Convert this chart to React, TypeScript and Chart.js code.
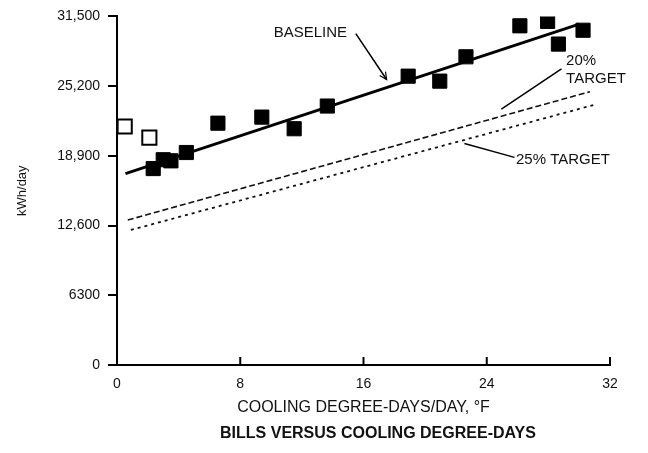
import React, { useEffect, useRef } from 'react';
import { Chart, registerables } from 'chart.js';
Chart.register(...registerables);

// ---- data ----
const openX = [0.5, 2.1];
const openY = [21550, 20550];
const filledX = [2.35, 3.0, 3.5, 4.5, 6.55, 9.4, 11.5, 13.65, 18.9, 20.95, 22.65, 26.15, 27.95, 28.65, 30.25];
const filledY = [17750, 18550, 18450, 19200, 21850, 22400, 21350, 23400, 26100, 25650, 27850, 30650, 31050, 29000, 30250];
const baselineX = [0.55, 30.0];
const baselineY = [17300, 30800];
const target20X = [0.7, 30.7];
const target20Y = [13100, 24700];
const target25X = [0.9, 30.95];
const target25Y = [12200, 23500];
const xTickValues = [0, 8, 16, 24, 32];
const yTickLabels = ['0', '6300', '12,600', '18,900', '25,200', '31,500'];

const chartTitle = 'BILLS VERSUS COOLING DEGREE-DAYS';
const xTitle = 'COOLING DEGREE-DAYS/DAY, \u00B0F';
const yTitle = 'kWh/day';

// annotation texts and their anchor points in data units
const labelTexts = ['BASELINE', '20%', 'TARGET', '25% TARGET'];
const labelX = [12.55, 29.15, 29.15, 25.9];
const labelY = [30000, 27500, 25850, 18500];
const labelAlign = ['center', 'left', 'left', 'left'];
// leader lines [x1, y1, x2, y2]
const leaderBaseline = [15.5, 29950, 17.5, 25800];
const leader20 = [28.85, 26750, 24.95, 23130];
const leader25 = [22.55, 20020, 25.8, 18760];

const FONT = '"Liberation Sans", Arial, Helvetica, sans-serif';

const toPts = (xs: number[], ys: number[]) => xs.map((x, i) => ({ x, y: ys[i] }));

const decorPlugin = {
  id: 'decor',
  afterDraw(chart: any) {
    const { ctx, chartArea } = chart;
    const xs = chart.scales.x;
    const ys = chart.scales.y;
    const px = (v: number) => xs.getPixelForValue(v);
    const py = (v: number) => ys.getPixelForValue(v);
    ctx.save();
    // inward x ticks
    ctx.strokeStyle = '#000';
    ctx.lineWidth = 2;
    xs.ticks.forEach((t: any) => {
      const x = px(t.value);
      ctx.beginPath();
      ctx.moveTo(x, chartArea.bottom);
      ctx.lineTo(x, chartArea.bottom - 8);
      ctx.stroke();
    });
    // leader lines
    ctx.lineWidth = 1.5;
    [leaderBaseline, leader20, leader25].forEach((l) => {
      ctx.beginPath();
      ctx.moveTo(px(l[0]), py(l[1]));
      ctx.lineTo(px(l[2]), py(l[3]));
      ctx.stroke();
    });
    // arrow head on baseline leader
    {
      const x1 = px(leaderBaseline[0]), y1 = py(leaderBaseline[1]);
      const x2 = px(leaderBaseline[2]), y2 = py(leaderBaseline[3]);
      const a = Math.atan2(y2 - y1, x2 - x1);
      const len = 8;
      ctx.lineWidth = 1.2;
      ctx.beginPath();
      ctx.moveTo(x2 - len * Math.cos(a - 0.45), y2 - len * Math.sin(a - 0.45));
      ctx.lineTo(x2, y2);
      ctx.lineTo(x2 - len * Math.cos(a + 0.45), y2 - len * Math.sin(a + 0.45));
      ctx.stroke();
    }
    // labels
    ctx.fillStyle = '#111';
    ctx.font = `15px ${FONT}`;
    ctx.textBaseline = 'middle';
    labelTexts.forEach((t, i) => {
      ctx.textAlign = labelAlign[i] as CanvasTextAlign;
      ctx.fillText(t, px(labelX[i]), py(labelY[i]));
    });
    // chart title
    ctx.font = `bold 16px ${FONT}`;
    ctx.textAlign = 'center';
    ctx.fillText(chartTitle, 378, 434);
    ctx.restore();
  },
};

export default function App() {
  const ref = useRef<HTMLCanvasElement | null>(null);
  useEffect(() => {
    if (!ref.current) return;
    Chart.defaults.font.family = FONT;
    Chart.defaults.color = '#111';
    const chart = new Chart(ref.current, {
      type: 'scatter',
      data: {
        datasets: [
          {
            label: 'Bills',
            data: toPts(filledX, filledY),
            pointStyle: 'rect',
            pointRadius: 10,
            backgroundColor: '#000',
            borderColor: '#000',
            borderWidth: 1,
          },
          {
            label: 'Excluded bills',
            data: toPts(openX, openY),
            pointStyle: 'rect',
            pointRadius: 10,
            backgroundColor: '#fff',
            borderColor: '#000',
            borderWidth: 2,
          },
          {
            label: 'Baseline',
            data: toPts(baselineX, baselineY),
            showLine: true,
            pointRadius: 0,
            borderColor: '#000',
            borderWidth: 2.8,
          },
          {
            label: '20% target',
            data: toPts(target20X, target20Y),
            showLine: true,
            pointRadius: 0,
            borderColor: '#111',
            borderWidth: 1.6,
            borderDash: [6, 3],
          },
          {
            label: '25% target',
            data: toPts(target25X, target25Y),
            showLine: true,
            pointRadius: 0,
            borderColor: '#111',
            borderWidth: 1.8,
            borderDash: [3, 4],
          },
        ],
      },
      options: {
        responsive: false,
        animation: false,
        layout: { padding: { top: 16, right: 38, bottom: 36, left: 0 } },
        plugins: {
          legend: { display: false },
          tooltip: { enabled: false },
          title: { display: false },
        },
        scales: {
          x: {
            type: 'linear',
            min: 0,
            max: 32,
            afterBuildTicks: (s: any) => {
              s.ticks = xTickValues.map((v) => ({ value: v }));
            },
            afterFit: (s: any) => {
              s.height = 52;
            },
            ticks: { font: { size: 14 }, padding: 11, maxRotation: 0, color: '#111' },
            grid: { display: true, drawOnChartArea: false, drawTicks: false, color: '#000' },
            border: { display: true, color: '#000', width: 2 },
            title: {
              display: true,
              text: xTitle,
              font: { size: 16 },
              padding: { top: 0, bottom: 0 },
              color: '#111',
            },
          },
          y: {
            type: 'linear',
            min: 0,
            max: 31500,
            ticks: {
              stepSize: 6300,
              font: { size: 14 },
              padding: 8,
              color: '#111',
              callback: (_v: any, i: number) => yTickLabels[i],
            },
            afterFit: (s: any) => {
              s.width = 117;
            },
            grid: { display: true, drawOnChartArea: false, drawTicks: true, tickLength: 9, color: '#000', lineWidth: 2 },
            border: { display: true, color: '#000', width: 2 },
            title: {
              display: true,
              text: yTitle,
              font: { size: 13 },
              padding: { top: 15, bottom: 0 },
              color: '#111',
            },
          },
        },
      },
      plugins: [decorPlugin],
    } as any);
    return () => chart.destroy();
  }, []);
  return (
    <div style={{ position: 'absolute', left: 0, top: 0, width: 648, height: 453, background: '#fff' }}>
      <canvas ref={ref} width={648} height={453} style={{ width: 648, height: 453, display: 'block' }} />
    </div>
  );
}
